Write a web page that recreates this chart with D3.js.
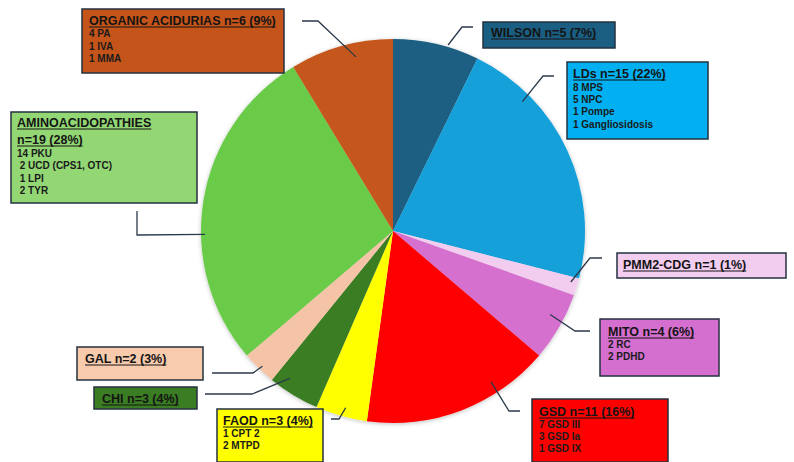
<!DOCTYPE html>
<html><head><meta charset="utf-8">
<script src="https://cdn.jsdelivr.net/npm/d3@7"></script>
<style>html,body{margin:0;padding:0;background:#fff;}svg{display:block;}</style>
</head><body>
<svg id="chart" width="794" height="462"></svg>
<script>
// ---- data ----
const categories = ["WILSON","LDs","PMM2-CDG","MITO","GSD","FAOD","CHI","GAL","AMINOACIDOPATHIES","ORGANIC ACIDURIAS"];
const counts     = [5, 15, 1, 4, 11, 3, 3, 2, 19, 6];
const percents   = ["7%","22%","1%","6%","16%","4%","4%","3%","28%","9%"];
const subtypes   = [
  [],
  ["8 MPS","5 NPC","1 Pompe","1 Gangliosidosis"],
  [],
  ["2 RC","2 PDHD"],
  ["7 GSD III","3 GSD Ia","1 GSD IX"],
  ["1 CPT 2","2 MTPD"],
  [],
  [],
  ["14 PKU"," 2 UCD (CPS1, OTC)"," 1 LPI"," 2 TYR"],
  ["4 PA","1 IVA","1 MMA"]
];

// ---- styles ----
const sliceColors = ["#1a5e82","#14a0da","#f2cdef","#d56fcf","#ff0000","#ffff00","#3a7d22","#f5c4a7","#6acb49","#c5561a"];
const boxColors   = ["#1a5e82","#00b0f0","#f2cdf0","#d56fcf","#ff0000","#ffff00","#3a7d22","#f8cbad","#92d774","#c5541a"];

// annotation layout: box [x0,y0,x1,y1], title baselines, sublines, leader elbow points, pie anchor (deg, radius)
const layout = [
  {box:[483,22,615,48],  tx:491, ty:[37], sx:491, sy:[], leader:[[473,27],[462,27]], anchor:[16.5,194]},
  {box:[567,62,708,139], tx:573, ty:[78], sx:573, sy:[91,103,115,128], leader:[[554,76],[543,76]], anchor:[45,183]},
  {box:[617,253,786,278],tx:623, ty:[269], sx:623, sy:[], leader:[[602,258],[590,258]], anchor:[106,185]},
  {box:[600,319,719,376],tx:608, ty:[336], sx:608, sy:[348,360], leader:[[590,331],[575,331]], anchor:[118,178]},
  {box:[532,399,668,462],tx:539, ty:[416], sx:539, sy:[428,440,452], leader:[[520,411],[509,411]], anchor:[147,180]},
  {box:[217,409,323,462],tx:223, ty:[425], sx:223, sy:[437,449], leader:[[331,419],[339,419]], anchor:[195,183]},
  {box:[94,387,197,409], tx:102, ty:[403], sx:102, sy:[], leader:[[205,394],[252,394]], anchor:[215,180]},
  {box:[77,347,203,380], tx:85,  ty:[363], sx:85,  sy:[], leader:[[212,373],[253,373]], anchor:[224,188]},
  {box:[11,112,197,203], tx:17,  ty:[127,144], sx:17, sy:[157,169,182,194], leader:[[137,211],[137,235]], anchor:[269,188], split:true},
  {box:[82,9,284,73],    tx:89,  ty:[25], sx:89,  sy:[37,50,62], leader:[[302,21],[318,21]], anchor:[348,178]}
];

const cx = 393, cy = 231, R = 192;
const svg = d3.select("#chart");

const defs = svg.append("defs");
const f = defs.append("filter").attr("id","sh").attr("x","-10%").attr("y","-10%").attr("width","120%").attr("height","120%");
f.append("feDropShadow").attr("dx",0).attr("dy",1).attr("stdDeviation",2).attr("flood-color","#000").attr("flood-opacity",0.25);

const pie = d3.pie().sort(null).value(d => d)(counts);
const arc = d3.arc().innerRadius(0).outerRadius(R);
const g = svg.append("g").attr("transform",`translate(${cx},${cy})`);
g.append("g").attr("filter","url(#sh)")
  .selectAll("path").data(pie).join("path")
  .attr("d", arc).attr("fill",(d,i)=>sliceColors[i]).attr("stroke","none");

// leaders
const line = d3.line();
layout.forEach((L,i) => {
  const a = L.anchor[0]*Math.PI/180;
  const p = [cx + L.anchor[1]*Math.sin(a), cy - L.anchor[1]*Math.cos(a)];
  svg.append("path").attr("d", line([...L.leader, p]))
    .attr("fill","none").attr("stroke","#2b3a4a").attr("stroke-width",1.3);
});

// boxes
layout.forEach((L,i) => {
  const [x0,y0,x1,y1] = L.box;
  const gg = svg.append("g");
  gg.append("rect").attr("x",x0).attr("y",y0).attr("width",x1-x0).attr("height",y1-y0)
    .attr("fill",boxColors[i]).attr("stroke","#25323f").attr("stroke-width",1.5);
  const titleLines = L.split ? [categories[i], `n=${counts[i]} (${percents[i]})`]
                             : [`${categories[i]} n=${counts[i]} (${percents[i]})`];
  titleLines.forEach((t,k) => {
    const tx = gg.append("text").attr("x",L.tx).attr("y",L.ty[k])
      .attr("font-family","'Liberation Sans', Arial, sans-serif").attr("font-weight","bold")
      .attr("font-size","12.5px").attr("fill","#141414").text(t);
    const w = tx.node().getComputedTextLength();
    gg.append("line").attr("x1",L.tx).attr("x2",L.tx+w).attr("y1",L.ty[k]+2).attr("y2",L.ty[k]+2)
      .attr("stroke","#141414").attr("stroke-width",1.1);
  });
  subtypes[i].forEach((s,k) => {
    gg.append("text").attr("x",L.sx).attr("y",L.sy[k])
      .attr("font-family","'Liberation Sans', Arial, sans-serif").attr("font-weight","bold")
      .attr("font-size","10px").attr("fill","#1a1a1a")
      .attr("xml:space","preserve").style("white-space","pre").text(s);
  });
});
</script>
</body></html>
